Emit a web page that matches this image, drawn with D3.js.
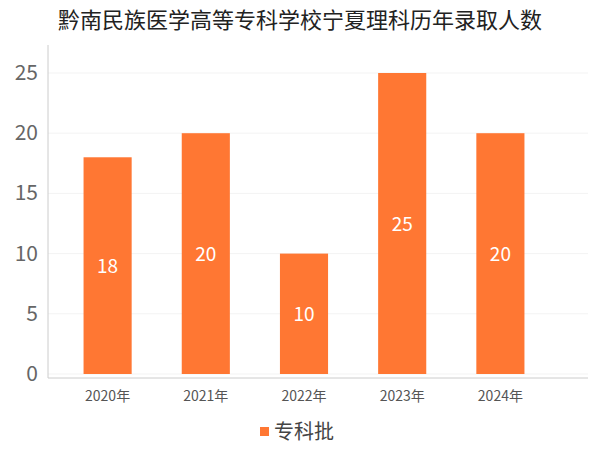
<!DOCTYPE html>
<html><head><meta charset="utf-8">
<script src="https://cdn.jsdelivr.net/npm/d3@7"></script>
<style>body{margin:0;background:#fff}</style></head>
<body><svg id="c" width="600" height="450"></svg>
<script>
const categories=["2020年","2021年","2022年","2023年","2024年"];
const values=[18,20,10,25,20];
const yTicks=[0,5,10,15,20,25];
const seriesName="专科批";
const title="黔南民族医学高等专科学校宁夏理科历年录取人数";
const color="#ff7733";
const font="'Noto Sans CJK SC','Noto Sans',sans-serif";
const svg=d3.select("#c");
const x=d3.scaleBand().domain(categories).range([59,549]).paddingInner(0.51).paddingOuter(0.25);
const y=d3.scaleLinear().domain([0,25]).range([374,73]);
svg.append("text").attr("x",300).attr("y",28).attr("text-anchor","middle").attr("font-family",font).attr("font-size",22).attr("fill","#222").text(title);
svg.selectAll(".g").data(yTicks).enter().append("line").attr("x1",48).attr("x2",588).attr("y1",d=>y(d)).attr("y2",d=>y(d)).attr("stroke","#f3f3f3");
svg.append("line").attr("x1",48).attr("x2",48).attr("y1",45).attr("y2",378).attr("stroke","#ccc");
svg.append("line").attr("x1",48).attr("x2",588).attr("y1",378).attr("y2",378).attr("stroke","#ccc");
svg.selectAll(".yt").data(yTicks).enter().append("text").attr("x",38).attr("y",d=>y(d)+7).attr("text-anchor","end").attr("font-family",font).attr("font-size",21).attr("fill","#666").text(d=>d);
svg.selectAll(".xt").data(categories).enter().append("text").attr("x",d=>x(d)+x.bandwidth()/2).attr("y",401).attr("text-anchor","middle").attr("font-family",font).attr("font-size",14).attr("fill","#555").text(d=>d);
svg.selectAll(".b").data(values).enter().append("rect").attr("x",(d,i)=>x(categories[i])).attr("width",x.bandwidth()).attr("y",d=>y(d)).attr("height",d=>y(0)-y(d)).attr("fill",color);
svg.selectAll(".l").data(values).enter().append("text").attr("x",(d,i)=>x(categories[i])+x.bandwidth()/2).attr("y",d=>(y(d)+y(0))/2+7).attr("text-anchor","middle").attr("font-family",font).attr("font-size",19).attr("fill","#fff").text(d=>d);
svg.append("rect").attr("x",260).attr("y",427).attr("width",9).attr("height",9).attr("fill",color);
svg.append("text").attr("x",274).attr("y",439).attr("font-family",font).attr("font-size",20).attr("fill","#444").text(seriesName);
</script></body></html>
